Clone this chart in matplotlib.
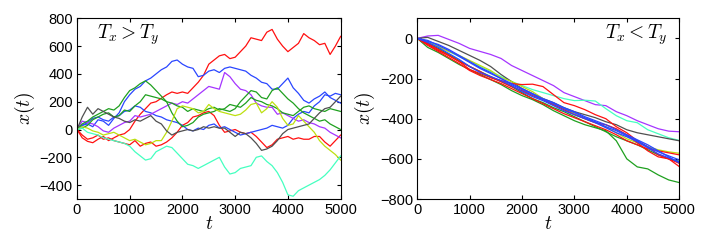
import numpy as np
import matplotlib
matplotlib.use("Agg")
import matplotlib.pyplot as plt
from matplotlib.ticker import FuncFormatter

plt.rcParams['mathtext.fontset'] = 'cm'
plt.rcParams['font.family'] = ['Liberation Sans', 'DejaVu Sans']

t_left = np.arange(0, 5001, 100)
t_right = np.arange(0, 5001, 200)

# left panel: T_x > T_y  (values read every 100 steps)
left_series = {
    "red_a": [0, -60, -85, -95, -70, -50, -80, -60, -40, -30, 0, 60, 110, 150, 190, 200, 225, 250, 270, 260,
              270, 260, 300, 340, 390, 470, 500, 530, 540, 510, 520, 560, 600, 660, 650, 640, 700, 720, 650, 600,
              560, 590, 620, 690, 660, 640, 610, 620, 540, 600, 670],
    "red_b": [0, -40, -70, -60, -40, -70, -60, -80, -90, -100, -110, -80, -120, -100, -90, -120, -110, -90, -60, -20,
              30, 50, 90, 100, 120, 130, 100, 30, -20, -10, 0, -20, -30, -20, -50, -90, -130, -110, -70, -60,
              -50, -70, -60, -70, -70, -50, -50, -90, -120, -80, -40],
    "blue_a": [0, 30, 40, 20, 70, 60, 30, 80, 120, 200, 250, 290, 310, 350, 370, 400, 430, 450, 490, 500,
               470, 450, 440, 380, 390, 420, 430, 410, 440, 450, 440, 430, 420, 390, 370, 340, 330, 290, 290, 330,
               370, 300, 260, 210, 190, 220, 240, 270, 230, 210, 190],
    "blue_c": [0, 30, 50, 80, 90, 70, 60, 90, 100, 130, 140, 170, 160, 130, 120, 100, 90, 70, 60, 50,
               30, 0, -10, 10, 0, 30, 40, 10, 20, 0, -20, -40, -30, -20, -10, 0, 10, 30, 20, 10,
               30, 80, 110, 130, 120, 170, 200, 250, 240, 260, 250],
    "purple": [0, 60, 50, 40, 20, -10, -20, 10, 30, 50, 60, 100, 90, 100, 110, 130, 150, 170, 190, 180,
               200, 190, 220, 250, 280, 310, 300, 290, 410, 380, 330, 290, 280, 250, 190, 170, 160, 160, 110, 120,
               100, 80, 60, 70, 50, 40, 20, 10, -20, -40, -60],
    "green_a": [0, 40, 60, 90, 110, 130, 150, 140, 170, 230, 280, 300, 330, 350, 320, 280, 240, 200, 120, 60,
                20, 30, 50, 90, 110, 120, 130, 150, 140, 130, 150, 200, 240, 280, 270, 230, 220, 280, 300, 260,
                220, 190, 150, 120, 100, 80, 60, 70, 40, 20, 0],
    "green_b": [0, 10, 30, 70, 90, 110, 120, 90, 100, 140, 130, 170, 200, 250, 240, 230, 220, 200, 190, 170,
                160, 130, 150, 140, 130, 150, 160, 140, 150, 180, 170, 160, 190, 230, 210, 200, 180, 170, 150, 120,
                110, 100, 130, 160, 170, 150, 140, 130, 150, 140, 130],
    "yellow": [0, 20, 10, -10, -20, -40, -30, -20, -40, -60, -80, -70, -90, -110, -100, -80, -80, -20, 60, 150,
               170, 160, 150, 120, 130, 180, 150, 130, 120, 110, 100, 110, 140, 180, 190, 120, 150, 200, 160, 80,
               30, 40, 100, 60, 20, -20, -80, -120, -150, -180, -220],
    "gray": [0, 90, 160, 110, 150, 130, 110, 90, 80, 60, 50, 70, 60, 80, 100, 60, 40, -10, -40, -20,
             -10, 0, -10, 0, 20, 10, 20, 10, 10, -20, -50, -20, -30, -60, -100, -150, -140, -120, -80, -30,
             0, 10, 20, 30, 40, 80, 120, 150, 160, 200, 240],
    "aqua": [0, 10, -20, -30, -40, -60, -70, -80, -90, -100, -120, -160, -190, -220, -210, -160, -140, -120, -130, -170,
             -210, -250, -260, -280, -260, -240, -220, -200, -270, -320, -310, -280, -270, -260, -200, -190, -230, -260, -310, -380,
             -470, -480, -440, -420, -400, -380, -360, -330, -290, -240, -190],
}

# right panel: T_x < T_y  (values read every 200 steps)
right_series = {
    "purple": [0, 12, 15, -5, -25, -50, -65, -80, -100, -135, -160, -185, -210, -235, -270, -290, -310, -330, -335, -365, -385, -410, -430, -450, -462, -465],
    "aqua":   [0, -15, -40, -65, -90, -115, -140, -165, -190, -215, -235, -255, -270, -285, -300, -310, -308, -312, -350, -385, -410, -420, -455, -475, -495, -508],
    "gray":   [0, 5, -15, -35, -60, -85, -110, -140, -180, -215, -250, -275, -300, -320, -345, -365, -380, -395, -415, -430, -455, -470, -480, -490, -500, -510],
    "yellow": [0, -20, -40, -65, -85, -110, -135, -160, -195, -215, -240, -265, -300, -330, -350, -375, -400, -420, -440, -470, -500, -520, -540, -555, -565, -572],
    "green_a": [0, -45, -70, -100, -130, -155, -180, -205, -230, -260, -285, -305, -330, -360, -385, -410, -430, -445, -460, -510, -600, -640, -650, -680, -705, -718],
    "green_b": [0, -25, -50, -80, -110, -140, -165, -190, -215, -240, -270, -300, -320, -345, -365, -390, -415, -440, -465, -490, -510, -530, -555, -580, -600, -612],
    "red_a":  [0, -30, -60, -85, -115, -140, -165, -195, -210, -225, -230, -228, -240, -280, -320, -335, -355, -380, -400, -440, -470, -510, -540, -580, -600, -638],
    "red_b":  [0, -35, -65, -95, -125, -160, -185, -205, -225, -250, -275, -300, -325, -350, -375, -395, -415, -435, -455, -480, -510, -530, -550, -560, -570, -580],
    "red_c":  [0, -25, -55, -85, -115, -155, -175, -195, -215, -240, -260, -285, -305, -330, -355, -380, -400, -420, -430, -450, -480, -520, -560, -590, -600, -622],
    "blue_a": [0, -10, -35, -60, -90, -120, -150, -175, -200, -230, -255, -280, -305, -325, -350, -370, -395, -415, -440, -460, -485, -510, -540, -565, -585, -605],
    "blue_b": [0, -20, -45, -75, -105, -140, -170, -190, -210, -235, -265, -290, -310, -335, -360, -380, -400, -420, -445, -470, -490, -515, -545, -575, -595, -615],
    "blue_c": [0, -15, -30, -55, -85, -115, -145, -170, -200, -225, -250, -275, -300, -320, -345, -365, -390, -410, -430, -455, -480, -505, -530, -560, -590, -620],
}

colors = {
    "red": "#ff1010", "blue": "#2a46ff", "green": "#1fa01f", "purple": "#a535ff",
    "yellow": "#bde010", "gray": "#505050", "aqua": "#45ffc0",
}

def col(name):
    return colors[name.split("_")[0]]

fig = plt.figure(figsize=(7.06, 2.46), dpi=100)
ax1 = fig.add_axes([0.109, 0.191, 0.3735, 0.7346])
ax2 = fig.add_axes([0.591, 0.191, 0.371, 0.7346])

for name, vals in left_series.items():
    ax1.plot(t_left, vals, color=col(name), lw=0.9)
for name, vals in right_series.items():
    ax2.plot(t_right, vals, color=col(name), lw=0.9)

ax1.set_xlim(0, 5000)
ax1.set_ylim(-500, 800)
ax1.set_yticks([-400, -200, 0, 200, 400, 600, 800])
ax2.set_xlim(0, 5000)
ax2.set_ylim(-800, 100)
ax2.set_yticks([-800, -600, -400, -200, 0])

fmt = FuncFormatter(lambda v, p: f"{int(v)}".replace("-", "\u2212"))
for ax in (ax1, ax2):
    ax.set_xticks([0, 1000, 2000, 3000, 4000, 5000])
    ax.yaxis.set_major_formatter(fmt)
    ax.tick_params(direction='in', top=True, right=True, labelsize=10.5, length=3, pad=3)
    ax.set_xlabel('$t$', fontsize=14, labelpad=-1)
    ax.set_ylabel('$x(t)$', fontsize=14, labelpad=2)
    for s in ax.spines.values():
        s.set_linewidth(0.8)

ax1.text(0.075, 0.91, '$T_x > T_y$', transform=ax1.transAxes, fontsize=14, va='center', ha='left')
ax2.text(0.955, 0.91, '$T_x < T_y$', transform=ax2.transAxes, fontsize=14, va='center', ha='right')

fig.savefig('out.png', dpi=100)
